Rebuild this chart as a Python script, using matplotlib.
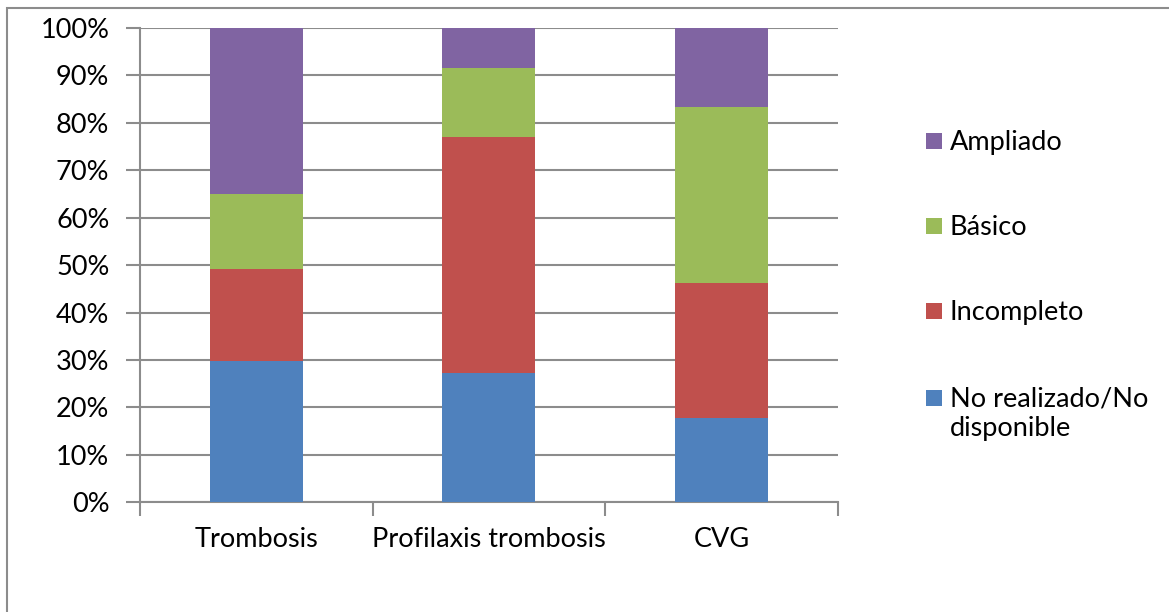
import matplotlib
matplotlib.use("Agg")
import matplotlib.pyplot as plt
from matplotlib.patches import Rectangle
from matplotlib.ticker import FixedLocator, PercentFormatter
import numpy as np

categories = ["Trombosis", "Profilaxis trombosis", "CVG"]
series_names = ["No realizado/No\ndisponible", "Incompleto", "Básico", "Ampliado"]
no_realizado = [29.7, 27.2, 17.7]
incompleto = [19.4, 49.9, 28.6]
basico = [15.8, 14.5, 37.0]
ampliado = [35.1, 8.4, 16.7]
colors = ["#4F81BD", "#C0504D", "#9BBB59", "#8064A2"]

plt.rcParams["font.family"] = ["Lato", "DejaVu Sans"]
FS = 19.5

fig = plt.figure(figsize=(11.69, 6.12), dpi=100)
ax = fig.add_axes([0.1198, 0.1793, 0.5968, 0.7749])

x = np.arange(len(categories))
bottom = np.zeros(len(categories))
for vals, c, name in zip([no_realizado, incompleto, basico, ampliado], colors, series_names):
    ax.bar(x, vals, width=0.4, bottom=bottom, color=c, linewidth=0, zorder=3, label=name)
    bottom += np.array(vals)

ax.set_xlim(-0.5, len(categories) - 0.5)
ax.set_ylim(0, 100)
ax.set_yticks(np.arange(0, 101, 10))
ax.yaxis.set_major_formatter(PercentFormatter(decimals=0))
ax.grid(axis="y", color="#8c8c8c", linewidth=1.5, zorder=0)

ax.set_xticks(x)
ax.set_xticklabels(categories)
ax.xaxis.set_minor_locator(FixedLocator(np.arange(-0.5, len(categories), 1.0)))
ax.tick_params(axis="x", which="major", length=0, pad=18, labelsize=FS)
ax.tick_params(axis="x", which="minor", length=10, width=1.5, color="#8c8c8c")
ax.tick_params(axis="y", length=10, width=1.5, color="#8c8c8c", pad=12, labelsize=FS)

for s in ["top", "right"]:
    ax.spines[s].set_visible(False)
for s in ["left", "bottom"]:
    ax.spines[s].set_color("#8c8c8c")
    ax.spines[s].set_linewidth(1.5)

# legend drawn top-down, topmost series first
W, H = 1169.0, 612.0
leg_y = [140.7, 226.0, 311.0, 397.7]
for yc, c, name in zip(leg_y, colors[::-1], series_names[::-1]):
    fig.patches.append(Rectangle((926 / W, 1 - (yc + 8) / H), 16 / W, 16 / H,
                                 transform=fig.transFigure, color=c, linewidth=0))
    fig.text(950 / W, 1 - (yc - 11) / H, name, fontsize=FS, va="top", ha="left",
             linespacing=1.2)

# chart area border
fig.patches.append(Rectangle((7 / W, -0.05), 1.2, 1 - 8 / H + 0.05, transform=fig.transFigure,
                             fill=False, edgecolor="#8c8c8c", linewidth=1.5))

fig.savefig("out.png", dpi=100)
